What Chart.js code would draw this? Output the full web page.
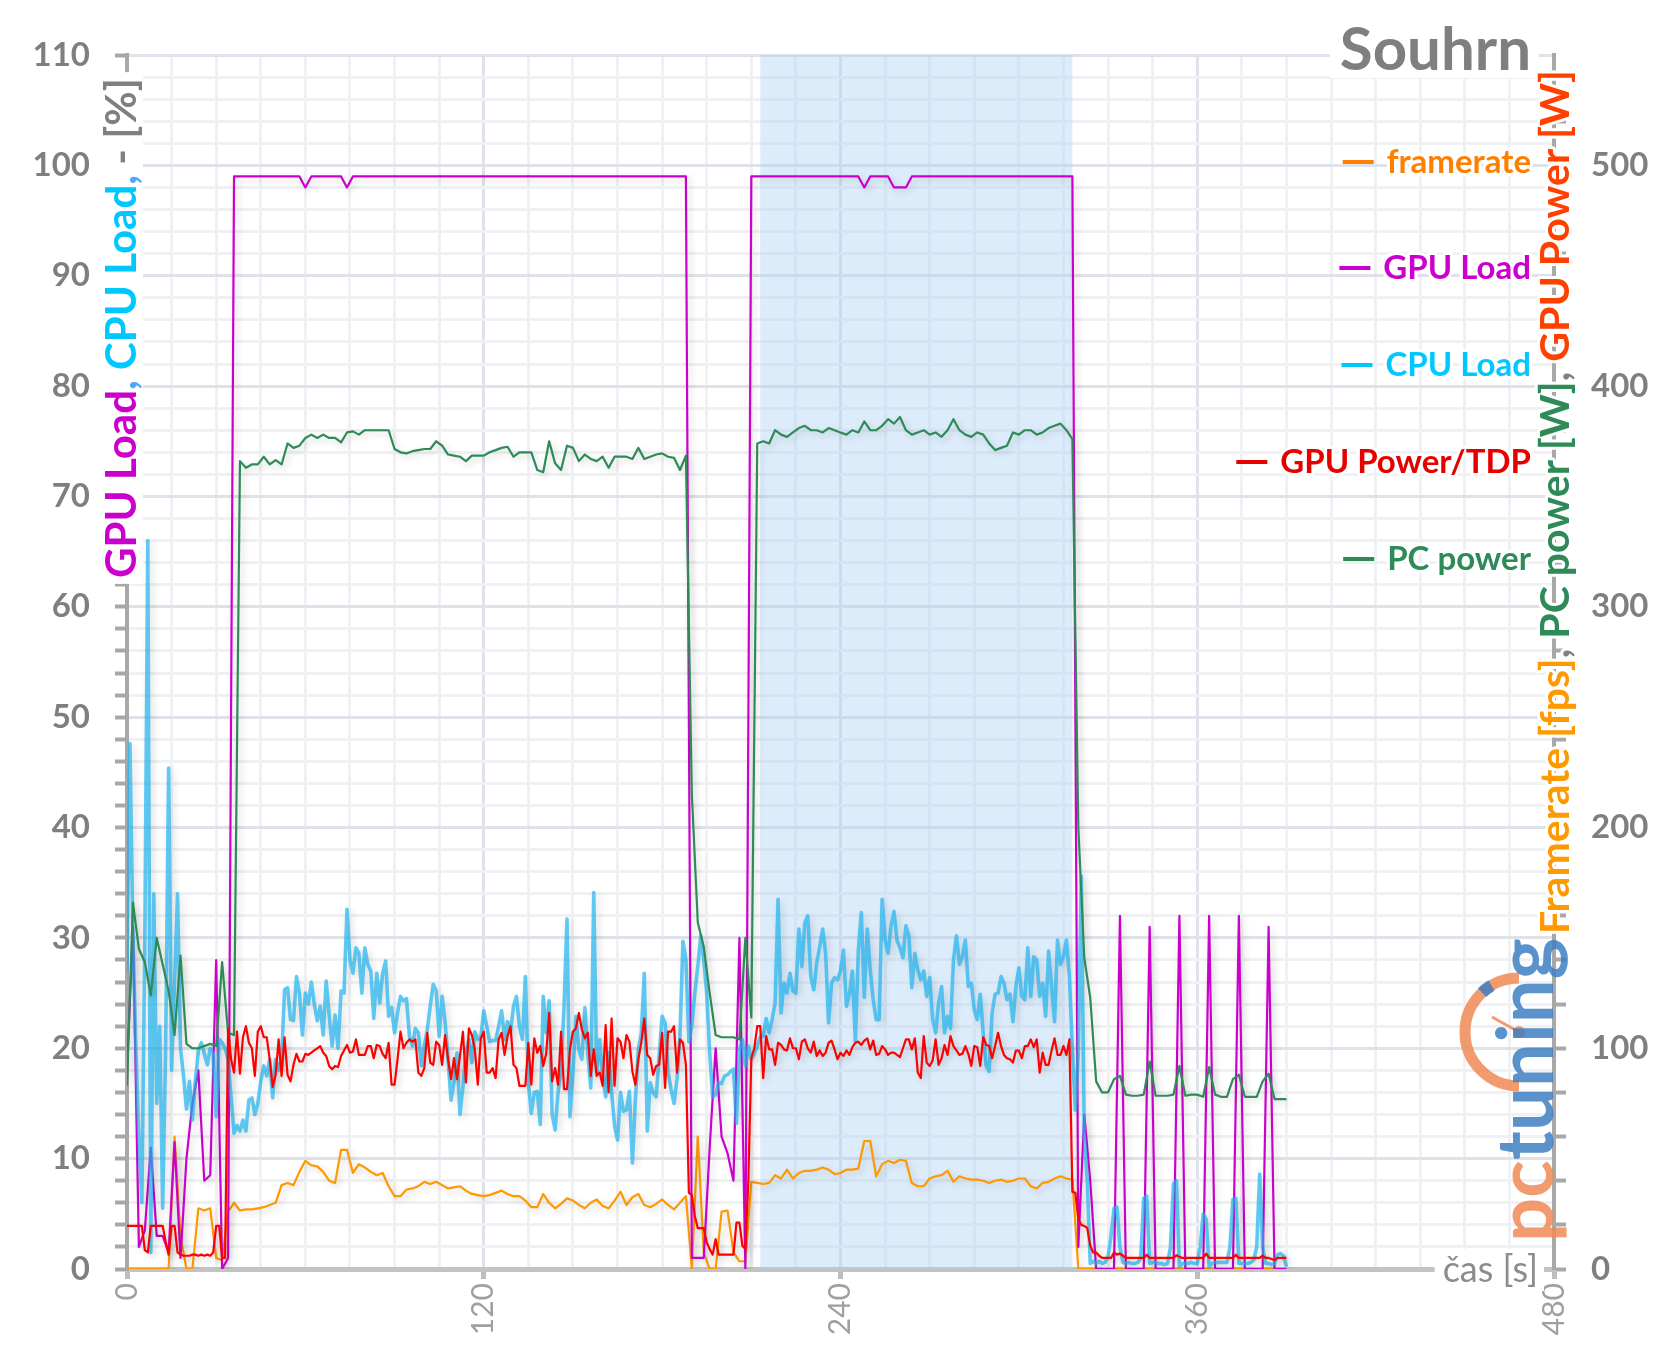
<!DOCTYPE html>
<html lang="cs">
<head>
<meta charset="utf-8">
<title>Souhrn</title>
<script src="https://cdn.jsdelivr.net/npm/chart.js@4.4.1/dist/chart.umd.min.js"></script>
<style>
  html, body { margin: 0; padding: 0; background: #fff; overflow: hidden; }
  .box { position: relative; width: 1658px; height: 1361px; }
</style>
</head>
<body>
<div class="box"><canvas id="souhrn"></canvas></div>
<script>
// CPU load a GPU power/TDP jsou po 1 s, ostatni po 2 s
const seconds1 = [];
for (let s = 0; s <= 390; s++) seconds1.push(s);
const seconds2 = [];
for (let s = 0; s <= 390; s += 2) seconds2.push(s);

// zvyrazneny usek (s)
const highlight = [213, 318];

// framerate [fps], po 2 s
const framerate = [
  0, 0, 0, 0, 0, 0, 0, 0, 60, 15,
  0, 0, 27.5, 26.5, 27.5, 5, 4, 26, 30, 26.5,
  27, 27, 27.5, 28, 29, 30, 38, 39, 38, 44,
  49, 47, 46.5, 44, 40, 39, 54, 54, 43.5, 47.5,
  46, 44, 42.5, 43.5, 37.5, 33, 33, 36, 36.5, 37.5,
  39.5, 38.5, 39.5, 38, 36.5, 37, 37.5, 35.5, 34, 33.5,
  33, 33.5, 34.5, 35.5, 34, 33, 33, 31, 28, 28,
  34, 30, 27.5, 29.5, 32, 31, 29, 27.5, 30, 31.5,
  28.5, 27.5, 31, 35, 29, 32.5, 34, 29, 28, 29.5,
  31.5, 29, 27, 30, 33, 0, 60, 7.5, 0, 0,
  26, 26.5, 7.5, 3.5, 3.5, 39.5, 39, 38.5, 39, 42.5,
  41, 45, 41, 43.5, 44.5, 44.5, 45, 46, 45, 43,
  43.5, 45, 45, 45.5, 58, 58, 42, 47.5, 49, 48,
  49.5, 49, 39, 37.5, 37.5, 41, 42, 42.5, 44.5, 39.5,
  42, 41, 40.5, 40.5, 40, 39, 40, 40.5, 39.5, 40,
  41, 41, 37.5, 36.5, 39, 39.5, 41, 42, 41, 40.5,
  0, 0, 0, 0, 0, 0, 0, 0, 0, 0,
  0, 0, 0, 0, 0, 0, 0, 0, 0, 0,
  0, 0, 0, 0, 0, 0, 0, 0, 0, 0,
  0, 0, 0, 0, 0, 0
];

// GPU load [%], po 2 s
const gpuLoad = [
  18, 31, 2, 3.5, 11, 3, 3, 1.5, 11.5, 1,
  10, 15, 18, 8, 8.5, 28, 0, 1,
  99, 99, 99, 99, 99, 99, 99, 99, 99, 99,
  99, 99, 98, 99, 99, 99, 99, 99, 99, 98,
  99, 99, 99, 99, 99, 99, 99, 99, 99, 99,
  99, 99, 99, 99, 99, 99, 99, 99, 99, 99,
  99, 99, 99, 99, 99, 99, 99, 99, 99, 99,
  99, 99, 99, 99, 99, 99, 99, 99, 99, 99,
  99, 99, 99, 99, 99, 99, 99, 99, 99, 99,
  99, 99, 99, 99, 99, 99, 99,
  1, 1, 1, 11, 20, 12, 10.5, 8, 30, 0,
  99, 99, 99, 99, 99, 99, 99, 99, 99, 99,
  99, 99, 99, 99, 99, 99, 99, 99, 99, 98,
  99, 99, 99, 99, 98, 98, 98, 99, 99, 99,
  99, 99, 99, 99, 99, 99, 99, 99, 99, 99,
  99, 99, 99, 99, 99, 99, 99, 99, 99, 99,
  99, 99, 99, 99, 99,
  2, 14, 8, 0, 0, 0, 0, 32, 0, 0,
  0, 0, 31, 0, 0, 0, 0, 32, 0, 0,
  0, 0, 32, 0, 0, 0, 0, 32, 0, 0,
  0, 0, 31, 0, 0, 0
];

// PC power [W], po 2 s
const pcPower = [
  83, 166, 145, 139, 124, 150, 138, 126, 106, 142,
  102, 100, 100, 101, 102, 101, 139, 107, 106, 366,
  363, 364.5, 364.5, 368, 364.5, 366.5, 364.5, 374, 372, 373,
  376.5, 378, 376.5, 378, 376.5, 376.5, 374.5, 379, 379.5, 378,
  380, 380, 380, 380, 380, 371.5, 370, 369.5, 370.5, 371,
  371.5, 371.5, 375, 373, 369, 368.5, 368, 366, 368.5, 368.5,
  368.5, 370, 371, 372, 372.5, 368, 370, 370, 370, 362,
  361, 375, 365, 362, 373, 372, 366, 369, 367, 366,
  368, 363, 368, 368, 368, 367, 372, 367, 368, 369,
  369.5, 368, 367.5, 362, 368.5, 215, 157, 146, 125, 106,
  105, 105, 105, 104, 150, 114, 374, 375, 374, 380,
  378, 377, 379, 381, 382, 380, 380, 379, 381, 380,
  379, 378, 380, 379, 384, 380, 380, 382, 385, 383,
  386, 380, 378, 379, 380, 378, 379, 377, 380, 385,
  380, 378, 377, 379, 378, 374, 371, 372, 373, 379,
  378, 380, 380, 378, 379, 381, 382, 383, 380, 376,
  200, 141, 123, 85, 80, 80, 86, 87.5, 79, 78.5,
  78.5, 79, 94, 78.5, 78.5, 78.5, 79, 92, 78.5, 79,
  79, 78, 91.5, 79, 78, 78, 86, 88, 78, 78,
  78, 85, 88.5, 77, 77, 77
];

// CPU load [%], po 1 s
const cpuLoad = [
  27, 47.6, 30, 20, 12, 6, 30, 66, 1.5, 34,
  15, 22, 5.5, 20, 45.4, 18, 26, 34, 20, 17.5,
  14.5, 17, 13.5, 17, 19.8, 20.5, 19.5, 18.5, 20, 19.5,
  13.8, 20.8, 20.5, 20, 19, 15.6, 12.3, 13, 12.5, 13.5,
  12.5, 15.3, 15.5, 14, 15, 17, 18.4, 17.5, 19, 15.5,
  19, 18, 19, 25.3, 25.5, 22.6, 22.5, 26.5, 25, 21.2,
  25, 24, 26, 24, 22.5, 23.8, 21.2, 26.1, 23, 20.2,
  23, 20, 25.2, 25, 32.6, 28, 26.8, 29.1, 28.6, 25,
  29.1, 27.6, 27, 22.7, 26.8, 24.1, 26.8, 27.9, 22.9, 23.7,
  21.4, 23.2, 24.7, 24.3, 24.5, 21.1, 20.2, 21.8, 21.4, 18.4,
  20.2, 21.7, 23.8, 25.8, 25.2, 21.1, 24.7, 22.4, 19, 15.3,
  17, 19.6, 14, 16.5, 19.5, 20.8, 18.7, 21.5, 20.8, 21,
  23.4, 22, 20.6, 20.7, 20.7, 22, 23.4, 20.8, 22.4, 21.5,
  23.8, 24.7, 22, 20.8, 26.5, 16.9, 14.1, 16, 16.1, 13.1,
  24.7, 21.4, 24.3, 14, 12.6, 16, 18.1, 23.7, 31.7, 13.8,
  17.8, 22.9, 19.9, 19, 23.7, 19.6, 16.4, 34.1, 17.8, 20.8,
  17.5, 15.6, 19.6, 16, 13, 11.7, 16, 14.3, 14.4, 16.1,
  9.6, 15.3, 19.9, 21.4, 26.8, 12.5, 16.9, 16, 15.6, 19.3,
  22.9, 22.3, 17.8, 16.3, 15, 17.2, 21.1, 29.7, 28, 20.6,
  22, 25, 27.4, 30.2, 28, 25, 19.6, 15.6, 15.8, 16.9,
  16.8, 17.5, 17.6, 17.9, 18.1, 13.2, 19.9, 20.8, 18.4, 20.2,
  19, 19.5, 20.2, 21, 21.1, 22.7, 21.4, 22.6, 24.1, 33.5,
  23.2, 25.9, 25, 26.8, 25.2, 25, 30.8, 27.4, 31.4, 32,
  26.5, 25.3, 27.7, 29.2, 30.8, 28.6, 22.3, 25.9, 26.4, 26.2,
  27, 28.9, 23.8, 24.9, 27, 20.6, 28.9, 32.3, 24.6, 30.8,
  27.1, 24.4, 22.6, 22.6, 33.5, 29.8, 28.6, 31.1, 32.4, 29.8,
  29.1, 28.2, 31.1, 30.2, 25.5, 28.6, 27.1, 26.2, 27, 24.7,
  26.4, 22.6, 21.4, 24.1, 25.6, 21.4, 22.9, 21.8, 28, 30.2,
  27.6, 28.3, 29.8, 25.6, 25.9, 23.5, 22.6, 24.9, 21.4, 18.4,
  17.9, 23.2, 24.9, 25, 26.5, 25.9, 24.4, 24.9, 22.4, 25.6,
  27.3, 24.7, 24.4, 29.1, 24.7, 28.3, 28, 24.7, 25.9, 22.9,
  28.8, 25.6, 22.4, 29.8, 27.6, 28.3, 29.8, 26.5, 19.9, 14.4,
  19.6, 35.6, 12, 8, 0.5, 0.7, 0.5, 0.7, 0.5, 0.6,
  1.1, 3, 5.5, 5.6, 2, 0.6, 0.5, 0.6, 0.5, 0.5,
  0.6, 1, 6.4, 6.6, 0.5, 0.6, 0.6, 0.5, 0.5, 0.4,
  0.5, 2, 7.7, 8, 0.2, 0.5, 0.5, 0.5, 0.6, 0.5,
  0.5, 2, 5, 4.5, 0.2, 0.5, 0.6, 0.6, 0.6, 0.6,
  0.6, 2, 6.3, 6.4, 0.5, 0.5, 0.5, 0.5, 0.6, 0.8,
  2, 8.6, 2, 0.5, 0.5, 0.4, 0.5, 1.3, 1.4, 1.2,
  0.2
];

// GPU power / TDP [%], po 1 s
const gpuPowerTdp = [
  3.9, 3.9, 3.9, 3.9, 3.9, 3.9, 1.7, 1.5, 3.9, 3.9,
  3.9, 3.9, 3.9, 2.5, 1.3, 3.9, 3.9, 1.5, 1.3, 1.2,
  1.2, 1.2, 1.3, 1.3, 1.2, 1.3, 1.2, 1.3, 1.2, 1.5,
  3.9, 3.9, 1, 1, 21.8, 19, 17.8, 21.5, 17.7, 21,
  22, 20.5, 20, 17.5, 21.5, 22, 21, 21, 19, 16.5,
  17.6, 20.8, 17.5, 21, 17.6, 17, 18.5, 19.5, 18.8, 18.8,
  19.5, 19.4, 19.6, 19.8, 20, 20.2, 19.6, 19.3, 18.4, 18.1,
  18.4, 18.3, 19.3, 19.8, 20.3, 19.6, 19.7, 20.8, 19.4, 19.4,
  19.4, 20.2, 20.2, 19.1, 20.3, 20.2, 19.5, 19.1, 20.5, 16.7,
  16.7, 19, 21.5, 20, 20.5, 20.8, 20.6, 20.8, 17.8, 17.5,
  18.2, 21.4, 18.7, 18.5, 20.6, 20.3, 18.5, 21.2, 19, 17.2,
  19.1, 17.2, 19.3, 21.5, 16.9, 21.8, 21.2, 19.9, 16.7, 20.9,
  21.5, 17.8, 17.8, 18.2, 17.3, 20.8, 21.4, 19.4, 21.1, 22,
  18.5, 18.2, 16.6, 16.6, 16.6, 20.5, 16.7, 20.9, 19.6, 20.2,
  18.4, 19.5, 23.2, 17, 18.2, 16.7, 21.5, 16.3, 16.3, 19.9,
  21.5, 21.8, 23.2, 21.7, 20.9, 21.4, 17.5, 19.9, 17.5, 17.8,
  16.6, 22.1, 16, 22.7, 16.6, 20.9, 20.6, 19.1, 21.2, 20.6,
  17.9, 16.7, 19, 20.5, 22.7, 19.4, 19.1, 17.6, 18.4, 18.5,
  21.4, 16.4, 21.5, 21.5, 22, 17.8, 20.8, 20.5, 18.5, 6.9,
  6.7, 4.8, 3.7, 3.7, 3.7, 2.4, 1.8, 1.3, 2.7, 1.3,
  1.3, 1.3, 1.3, 1.3, 1.3, 4.2, 4.2, 2.1, 1.8, 8,
  19.1, 20, 22, 22, 17.3, 21.1, 19.9, 19.9, 18.5, 20.5,
  20.3, 19.9, 19.8, 20.9, 20, 20, 19, 20.6, 20.8, 20,
  19.6, 20.6, 19.3, 19.8, 19.3, 19.6, 20.5, 20.7, 19.9, 19,
  19.6, 19.3, 19.8, 19.4, 20.1, 20.5, 20.6, 20.3, 20.7, 20.9,
  19.9, 20.7, 19.4, 19.5, 20.2, 19.9, 19.4, 19.6, 19.6, 19.4,
  19.2, 20, 20.8, 20.8, 19.9, 20.9, 17.8, 17.3, 21.1, 18.7,
  18.4, 18.9, 20.8, 18.5, 19.1, 20.3, 19.4, 21.1, 20.2, 19.8,
  19.4, 19.5, 20.2, 19.5, 18.4, 20.2, 20.1, 18.4, 21, 20.3,
  20.2, 19.1, 20.2, 21.4, 20.2, 19.4, 19.1, 19, 18.7, 19.8,
  19.8, 19.1, 20.2, 20.2, 20.8, 20.1, 20.8, 17.8, 19.6, 18.5,
  18.5, 19.8, 20.9, 19.4, 19.4, 20.2, 19.4, 20.8, 7, 6.9,
  4.5, 4, 3.9, 3.7, 2.1, 1.5, 1.5, 1.2, 1, 1,
  1, 1, 1.5, 1.3, 1.4, 1.2, 1, 1, 1, 1,
  1, 1, 1, 1.3, 1, 1, 1, 1, 1, 1,
  1, 1, 1, 1.25, 1.1, 1, 1, 1, 1, 1,
  1, 1, 1, 1.4, 1, 1, 1, 1, 1, 1,
  1, 1, 1, 1.3, 1, 1, 1, 1, 1, 1,
  1, 1, 1.2, 1, 1, 0.9, 0.8, 1, 1, 1,
  1
];

const xy = (times, vals) => times.map((t, i) => ({ x: t, y: vals[i] }));

const legendRows = [
  ['framerate', '#ff8000', 162],
  ['GPU Load', '#cc00cc', 268],
  ['CPU Load', '#00c8ff', 365],
  ['GPU Power/TDP', '#e60000', 462],
  ['PC power', '#2e8b57', 559]
];

const MAJOR_GRID = '#dfe2e8';
const MINOR_GRID = '#f0f1f4';
const AXIS_GREY = '#a8a8a8';

Chart.defaults.font.family = 'Lato';

// text otoceny o 90 st., skladany z barevnych casti
function rotatedText(ctx, parts, cx, cy, font, backing, halo) {
  ctx.save();
  ctx.font = font;
  const widths = parts.map(([t]) => ctx.measureText(t).width);
  const total = widths.reduce((a, b) => a + b, 0);
  ctx.translate(cx, cy);
  ctx.rotate(-Math.PI / 2);
  if (backing) {
    ctx.fillStyle = '#fff';
    ctx.fillRect(-total / 2 - 6, -backing / 2, total + 12, backing);
  }
  ctx.textBaseline = 'middle';
  ctx.lineJoin = 'round';
  let x = -total / 2;
  parts.forEach(([t, color], i) => {
    if (halo) {
      ctx.strokeStyle = '#fff';
      ctx.lineWidth = halo;
      ctx.strokeText(t, x, 2);
    }
    ctx.fillStyle = color;
    ctx.fillText(t, x, 2);
    x += widths[i];
  });
  ctx.restore();
}

const decor = {
  id: 'decor',
  beforeDatasetsDraw(chart) {
    const { ctx, chartArea: a, scales: { x } } = chart;
    const x0 = x.getPixelForValue(highlight[0]);
    const x1 = x.getPixelForValue(highlight[1]);
    ctx.save();
    ctx.fillStyle = 'rgba(175, 210, 245, 0.42)';
    ctx.fillRect(x0, a.top, x1 - x0, a.bottom - a.top);
    ctx.restore();
  },
  beforeDatasetDraw(chart) {
    const ctx = chart.ctx;
    ctx.save();
    ctx.shadowColor = 'rgba(0, 0, 0, 0.18)';
    ctx.shadowBlur = 7;
    ctx.shadowOffsetX = 3;
    ctx.shadowOffsetY = 3;
  },
  afterDatasetDraw(chart) {
    chart.ctx.restore();
  },
  afterDraw(chart) {
    const { ctx, chartArea: a } = chart;

    // nadpis
    ctx.save();
    ctx.font = 'bold 60px Lato';
    const tw = ctx.measureText('Souhrn').width;
    ctx.fillStyle = '#fff';
    ctx.fillRect(a.right - 23 - tw - 10, 20, tw + 18, 58);
    ctx.fillStyle = '#7f7f7f';
    ctx.textAlign = 'right';
    ctx.fillText('Souhrn', a.right - 23, 70);

    // popis osy x
    ctx.font = '36px Lato';
    const cw = ctx.measureText('čas [s]').width;
    ctx.fillStyle = '#fff';
    ctx.fillRect(a.right - 16 - cw - 8, a.bottom - 20, cw + 14, 42);
    ctx.fillStyle = '#8c8c8c';
    ctx.textBaseline = 'middle';
    ctx.fillText('čas [s]', a.right - 16, a.bottom + 1);
    ctx.restore();

    // popisy os y
    rotatedText(ctx, [
      ['GPU Load', '#cc00cc'], [', ', '#4da6ff'],
      ['CPU Load', '#00c8ff'], [', ', '#4da6ff'],
      ['- [%]', '#808080']
    ], 120, 328, 'bold 42px Lato', 46, 0);

    rotatedText(ctx, [
      ['Framerate [fps]', '#ff9900'], [', ', '#808080'],
      ['PC power [W]', '#2e8b57'], [', ', '#808080'],
      ['GPU Power [W]', '#ff4000']
    ], a.right, 502, 'bold 41px Lato', 0, 6);

    // legenda
    ctx.save();
    ctx.font = 'bold 33px Lato';
    ctx.textAlign = 'right';
    ctx.textBaseline = 'middle';
    ctx.lineJoin = 'round';
    legendRows.forEach(([label, color, y]) => {
      const w = ctx.measureText(label).width;
      const right = a.right - 23;
      ctx.strokeStyle = '#fff';
      ctx.lineWidth = 6;
      ctx.strokeText(label, right, y);
      ctx.fillStyle = color;
      ctx.fillText(label, right, y);
      ctx.fillRect(right - w - 13 - 31, y - 2, 31, 4);
    });
    ctx.restore();

    // logo pcTuning (zjednodusene)
    ctx.save();
    ctx.globalAlpha = 0.85;
    const cx = 1519, cy = 1032;
    ctx.strokeStyle = '#f08a55';
    ctx.lineWidth = 11;
    ctx.beginPath();
    ctx.arc(cx, cy, 54, Math.PI * 1.5, Math.PI * 0.5, true);
    ctx.stroke();
    ctx.strokeStyle = '#3f7fc2';
    ctx.lineWidth = 12;
    ctx.beginPath();
    ctx.arc(cx, cy, 54, Math.PI * 1.26, Math.PI * 1.33);
    ctx.stroke();
    ctx.strokeStyle = '#f08a55';
    ctx.lineWidth = 3;
    ctx.beginPath();
    ctx.moveTo(cx, cy);
    ctx.lineTo(cx - 27, cy - 15);
    ctx.stroke();
    ctx.fillStyle = '#f08a55';
    ctx.beginPath();
    ctx.arc(cx, cy, 6, 0, Math.PI * 2);
    ctx.fill();
    ctx.translate(1553, 1242);
    ctx.rotate(-Math.PI / 2);
    ctx.font = 'bold 78px Lato';
    ctx.fillStyle = '#f08a55';
    ctx.fillText('pc', 0, 0);
    const pw = ctx.measureText('pc').width;
    ctx.fillStyle = '#3f7fc2';
    ctx.fillText('tuning', pw, 0);
    ctx.restore();
  }
};

const tickMajor = (v, every) => Math.abs(v % every) < 1e-6;

new Chart(document.getElementById('souhrn'), {
  type: 'line',
  data: {
    datasets: [
      { label: 'GPU Power/TDP', data: xy(seconds1, gpuPowerTdp), borderColor: '#ff0000', borderWidth: 2.2, yAxisID: 'y' },
      { label: 'PC power', data: xy(seconds2, pcPower), borderColor: '#2e8b57', borderWidth: 2.2, yAxisID: 'y2' },
      { label: 'CPU Load', data: xy(seconds1, cpuLoad), borderColor: 'rgba(30, 180, 240, 0.7)', borderWidth: 3.6, yAxisID: 'y' },
      { label: 'GPU Load', data: xy(seconds2, gpuLoad), borderColor: '#cc00cc', borderWidth: 2.2, yAxisID: 'y' },
      { label: 'framerate', data: xy(seconds2, framerate), borderColor: '#ff9900', borderWidth: 2.2, yAxisID: 'y2' }
    ]
  },
  options: {
    responsive: true,
    maintainAspectRatio: false,
    animation: false,
    layout: { padding: { top: 55, left: 0, right: 0, bottom: 0 } },
    elements: {
      point: { radius: 0 },
      line: { tension: 0, borderJoinStyle: 'round', fill: false }
    },
    plugins: {
      legend: { display: false },
      tooltip: { enabled: false }
    },
    scales: {
      x: {
        type: 'linear',
        min: 0,
        max: 480,
        afterFit: s => { s.height = 92; },
        ticks: {
          stepSize: 15,
          autoSkip: false,
          minRotation: 90,
          maxRotation: 90,
          padding: 4,
          color: '#a0a0a0',
          font: { size: 30 },
          callback: v => tickMajor(v, 120) ? v : ''
        },
        grid: {
          color: c => tickMajor(c.tick.value, 120) ? MAJOR_GRID : MINOR_GRID,
          lineWidth: 3,
          tickLength: 10,
          tickWidth: 5,
          tickColor: c => tickMajor(c.tick.value, 120) ? '#bdbdbd' : 'rgba(0,0,0,0)'
        },
        border: { color: '#c3c3c3', width: 5 }
      },
      y: {
        position: 'left',
        min: 0,
        max: 110,
        afterFit: s => { s.width = 127; },
        ticks: {
          stepSize: 2,
          autoSkip: false,
          padding: 25,
          color: '#7f7f7f',
          font: { size: 33, weight: 'bold' },
          callback: v => tickMajor(v, 10) ? v : ''
        },
        grid: {
          color: c => tickMajor(c.tick.value, 10) ? MAJOR_GRID : MINOR_GRID,
          lineWidth: 3,
          tickLength: 12,
          tickWidth: 4,
          tickColor: AXIS_GREY
        },
        border: { color: AXIS_GREY, width: 4 }
      },
      y2: {
        position: 'right',
        min: 0,
        max: 550,
        afterFit: s => { s.width = 104; },
        afterBuildTicks: s => {
          const t = [];
          for (let v = 0; v <= 540; v += 20) t.push({ value: v });
          s.ticks = t;
        },
        ticks: {
          autoSkip: false,
          padding: 25,
          color: '#7f7f7f',
          font: { size: 33, weight: 'bold' },
          callback: v => tickMajor(v, 100) ? v : ''
        },
        grid: {
          drawOnChartArea: false,
          tickLength: 12,
          tickWidth: 4,
          tickColor: AXIS_GREY
        },
        border: { color: AXIS_GREY, width: 4 }
      }
    }
  },
  plugins: [decor]
});
</script>
</body>
</html>
